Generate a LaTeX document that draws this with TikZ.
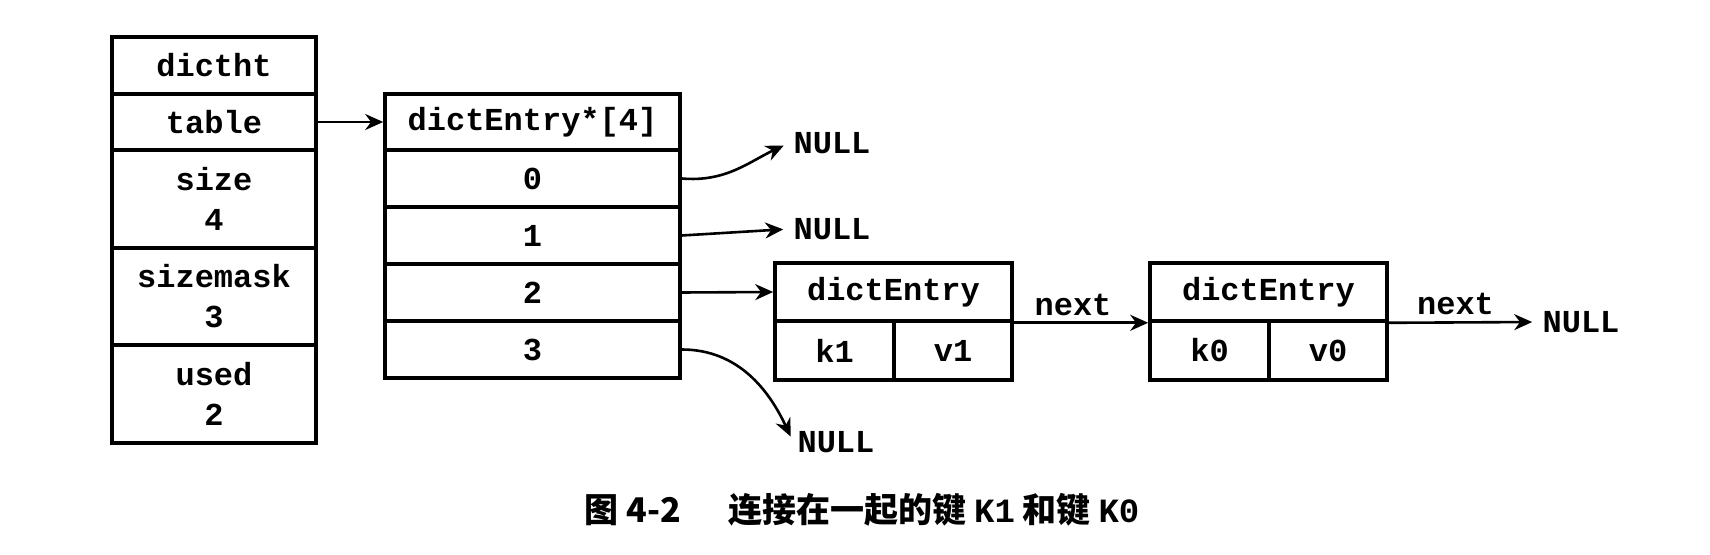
\documentclass[tikz,border=0pt]{standalone}
\usepackage{fontspec}
\setmonofont{Liberation Mono}
\newfontfamily\cjk{Noto Sans CJK SC}
\usepackage{tikz}
\usetikzlibrary{positioning, arrows.meta}

\begin{document}
\begin{tikzpicture}[x=0.5pt, y=-0.5pt,
    cell/.style={draw, line width=1.8pt, inner sep=0pt, align=center,
        font=\ttfamily\bfseries\fontsize{16}{20}\selectfont},
    nul/.style={inner sep=2pt, font=\ttfamily\bfseries\fontsize{16}{20}\selectfont},
    ptr/.style={-{Stealth[length=9pt, width=8pt]}, line width=1.3pt}]
    \useasboundingbox (0,0) rectangle (1710,555);

    % dictht
    \node[cell, minimum width=102pt, minimum height=28.5pt] (ht) at (214,65.5) {dictht};
    \node[cell, minimum width=102pt, minimum height=28pt] (table) at (214,122) {table};
    \node[cell, minimum width=102pt, minimum height=49pt] (size) at (214,199) {size\\4};
    \node[cell, minimum width=102pt, minimum height=48.5pt] (sizemask) at (214,296.5) {sizemask\\3};
    \node[cell, minimum width=102pt, minimum height=49pt] (used) at (214,394) {used\\2};

    % table array
    \node[cell, minimum width=147.5pt, minimum height=28pt] (arr) at (532.5,122) {dictEntry*[4]};
    \node[cell, minimum width=147.5pt, minimum height=28.5pt] (a0) at (532.5,178.5) {0};
    \node[cell, minimum width=147.5pt, minimum height=28.5pt] (a1) at (532.5,235.5) {1};
    \node[cell, minimum width=147.5pt, minimum height=28.5pt] (a2) at (532.5,292.5) {2};
    \node[cell, minimum width=147.5pt, minimum height=28.5pt] (a3) at (532.5,349.5) {3};

    % entries
    \node[cell, minimum width=118.5pt, minimum height=29pt] (e1) at (893.5,292) {dictEntry};
    \node[cell, minimum width=59.5pt, minimum height=29.5pt] (k1) at (834.5,350.5) {k1};
    \node[cell, minimum width=59pt, minimum height=29.5pt] (v1) at (953,350.5) {v1};
    \node[cell, minimum width=118.5pt, minimum height=29pt] (e2) at (1268.5,292) {dictEntry};
    \node[cell, minimum width=59.5pt, minimum height=29.5pt] (k0) at (1209.5,350.5) {k0};
    \node[cell, minimum width=59pt, minimum height=29.5pt] (v0) at (1328,350.5) {v0};

    \node[nul] (null0) at (832,143) {NULL};
    \node[nul] (null1) at (832,229) {NULL};
    \node[nul] (null3) at (836,442) {NULL};
    \node[nul] (nullend) at (1581,322) {NULL};

    \draw[ptr] (table.east) -- (arr.west);
    \draw[ptr, shorten >=3pt] (a0.east) to[out=-5, in=205] (null0.west);
    \draw[ptr, shorten >=3pt] (a1.east) -- (null1.west);
    \draw[ptr] (a2.east) -- (e1.west);
    \draw[ptr, shorten >=3pt] (a3.east) to[out=0, in=115] (null3.west);
    \draw[ptr] (e1.south east) -- node[nul, above=1pt, xshift=-4pt] (next1) {next} (e2.south west);
    \draw[ptr, shorten >=3pt] (e2.south east) -- node[nul, above=1pt, xshift=-4pt] (next2) {next} (nullend.west);

    \node[font=\cjk\bfseries\fontsize{17}{20}\selectfont] (cap) at (862,510)
        {图 4-2\hspace{1.4em}连接在一起的键 {\ttfamily K1} 和键 {\ttfamily K0}};
\end{tikzpicture}
\end{document}
